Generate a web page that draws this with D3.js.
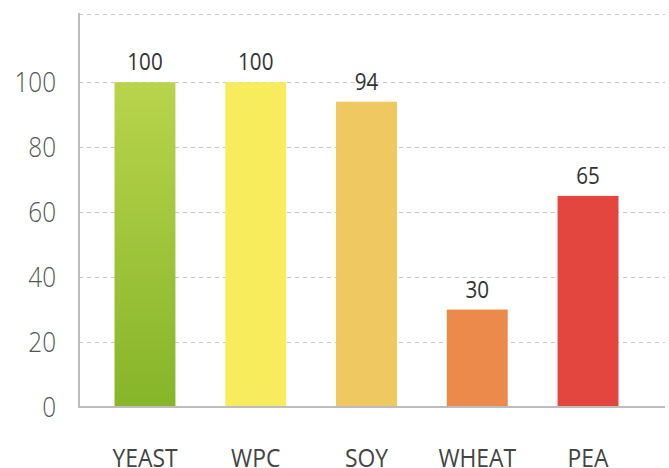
<!DOCTYPE html>
<html>
<head>
<meta charset="utf-8">
<script src="https://cdn.jsdelivr.net/npm/d3@7"></script>
<style>
  html, body { margin: 0; padding: 0; background: #fff; overflow: hidden; }
  svg { display: block; }
</style>
</head>
<body>
<script>
const categories = ["YEAST", "WPC", "SOY", "WHEAT", "PEA"];
const values = [100, 100, 94, 30, 65];
const barColors = ["#9bc23a", "#f7ec5c", "#f0c862", "#eb8a4a", "#e2463f"];
const yTicks = [0, 20, 40, 60, 80, 100];

const W = 669, H = 468;
const svg = d3.select("body").append("svg").attr("width", W).attr("height", H);
const FONT = "'Open Sans', 'Noto Sans', sans-serif";

const defs = svg.append("defs");
const grad = defs.append("linearGradient").attr("id", "yeastGrad")
  .attr("x1", 0).attr("y1", 0).attr("x2", 0).attr("y2", 1);
grad.append("stop").attr("offset", "0%").attr("stop-color", "#b8d44c");
grad.append("stop").attr("offset", "100%").attr("stop-color", "#86b52a");

const y = d3.scaleLinear().domain([0, 121]).range([407, 14]);
const x = d3.scaleBand().domain(categories).range([89.6, 643.4])
  .paddingInner(0.45).paddingOuter(0.225);

const left = 79, right = 665;

// gridlines
const gridVals = yTicks.filter(d => d > 0).concat([121]);
svg.append("g").selectAll("line").data(gridVals).join("line")
  .attr("x1", left).attr("x2", right)
  .attr("y1", d => Math.round(y(d)) + 0.5).attr("y2", d => Math.round(y(d)) + 0.5)
  .attr("stroke", "#c8c8c8").attr("stroke-width", 1)
  .attr("stroke-dasharray", "4,4");

// bars
svg.append("g").selectAll("rect").data(categories).join("rect")
  .attr("x", d => x(d))
  .attr("width", x.bandwidth())
  .attr("y", (d, i) => y(values[i]))
  .attr("height", (d, i) => y(0) - y(values[i]))
  .attr("fill", (d, i) => i === 0 ? "url(#yeastGrad)" : barColors[i]);

// value labels (slightly condensed)
svg.append("g").selectAll("text").data(categories).join("text")
  .attr("transform", (d, i) => `translate(${x(d) + x.bandwidth() / 2},${y(values[i]) - 12}) scale(0.86,1)`)
  .attr("text-anchor", "middle")
  .attr("font-family", FONT)
  .attr("font-size", 24)
  .attr("fill", "#333")
  .text((d, i) => values[i]);

// axes lines
svg.append("line").attr("x1", left).attr("x2", left).attr("y1", 13).attr("y2", 408)
  .attr("stroke", "#bdbdbd").attr("stroke-width", 2);
svg.append("line").attr("x1", left - 1).attr("x2", right).attr("y1", 407).attr("y2", 407)
  .attr("stroke", "#bdbdbd").attr("stroke-width", 2);

// y tick labels
svg.append("g").selectAll("text").data(yTicks).join("text")
  .attr("transform", d => `translate(56,${y(d)}) scale(0.9,1)`)
  .attr("dy", "0.36em")
  .attr("text-anchor", "end")
  .attr("font-family", FONT)
  .attr("font-weight", 300)
  .attr("font-size", 27)
  .attr("fill", "#555")
  .text(d => d);

// category labels
svg.append("g").selectAll("text").data(categories).join("text")
  .attr("transform", d => `translate(${x(d) + x.bandwidth() / 2},467) scale(0.88,1)`)
  .attr("text-anchor", "middle")
  .attr("font-family", FONT)
  .attr("font-size", 26)
  .attr("fill", "#444")
  .text(d => d);
</script>
</body>
</html>
